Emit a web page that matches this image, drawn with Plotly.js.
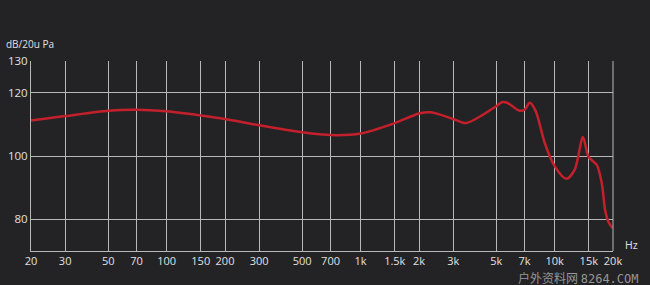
<!DOCTYPE html>
<html><head><meta charset="utf-8">
<script src="https://cdn.plot.ly/plotly-3.0.1.min.js"></script>
<style>html,body{margin:0;padding:0;background:#232325;}</style>
</head><body>
<div id="chart" style="width:650px;height:285px;"></div>
<script>
const freqs = [20, 30, 50, 70, 100, 150, 200, 300, 500, 700, 1000, 1500, 2000, 2300, 3000, 3500, 5000, 5350, 5700, 6600, 7000, 7450, 8000, 8900, 10000, 11500, 12700, 14000, 14900, 15800, 16500, 17500, 18200, 18900, 19900];
const spl   = [111.2, 112.6, 114.3, 114.6, 114.1, 112.8, 111.7, 109.7, 107.5, 106.6, 107.1, 110.4, 113.4, 113.8, 111.7, 110.4, 115.7, 117.0, 116.8, 114.3, 114.6, 116.8, 114.1, 104.1, 96.8, 92.8, 95.7, 106.0, 99.9, 98.3, 97.2, 91.5, 83.0, 79.3, 77.2];
const xTickVals = [20, 30, 50, 70, 100, 150, 200, 300, 500, 700, 1000, 1500, 2000, 3000, 5000, 7000, 10000, 15000, 20000];
const xTickText = ['20','30','50','70','100','150','200','300','500','700','1k','1.5k','2k','3k','5k','7k','10k','15k','20k'];
const yTickVals = [80, 100, 120, 130];
const yTickText = ['80','100','120','130'];

const bg = '#232325';
const grid = '#b8b8b8';
const font = 'Open Sans, Noto Sans, sans-serif';

Plotly.newPlot('chart', [{
  x: freqs, y: spl, type: 'scatter', mode: 'lines',
  line: {color: '#c3202b', width: 2.5, shape: 'spline', smoothing: 0.8},
  hoverinfo: 'none'
}], {
  width: 650, height: 285,
  paper_bgcolor: bg, plot_bgcolor: bg,
  margin: {l: 31, r: 37, t: 61, b: 34},
  showlegend: false,
  font: {family: font, color: '#e0e0e0', size: 11},
  xaxis: {
    type: 'log', range: [Math.log10(20), Math.log10(20000)],
    tickmode: 'array', tickvals: xTickVals, ticktext: xTickText,
    showgrid: true, gridcolor: grid, gridwidth: 1,
    showline: true, linecolor: grid, linewidth: 1, mirror: false,
    zeroline: false, ticks: '', ticklen: 0,
    tickfont: {family: font, size: 11, color: '#e0e0e0'}
  },
  yaxis: {
    range: [70, 130],
    tickmode: 'array', tickvals: yTickVals, ticktext: yTickText,
    showgrid: true, gridcolor: grid, gridwidth: 1,
    showline: true, linecolor: grid, linewidth: 1,
    zeroline: false, ticks: '', ticklen: 0,
    tickfont: {family: font, size: 11.5, color: '#e0e0e0'}
  },
  shapes: [{type: 'line', xref: 'paper', yref: 'paper', x0: 1, x1: 1, y0: 0, y1: 1, line: {color: grid, width: 1}}],
  annotations: [
    {text: 'dB/20u Pa', xref: 'paper', yref: 'paper', x: -27/582, y: 1 + 8/190, xanchor: 'left', yanchor: 'bottom', showarrow: false, font: {family: font, size: 10, color: '#e0e0e0'}},
    {text: 'Hz', xref: 'paper', yref: 'paper', x: 1 + 10/582, y: 6/190, xanchor: 'left', yanchor: 'middle', showarrow: false, font: {family: font, size: 10.5, color: '#e0e0e0'}},
    {text: '户外资料网 <span style="font-family:DejaVu Sans Mono">8264.COM</span>', xref: 'paper', yref: 'paper', x: 1 + 28/582, y: -26/190, xanchor: 'right', yanchor: 'middle', showarrow: false, font: {family: 'Noto Sans CJK SC, sans-serif', size: 12, color: 'rgba(190,190,190,0.75)'}}
  ]
}, {staticPlot: true});
</script>
</body></html>
